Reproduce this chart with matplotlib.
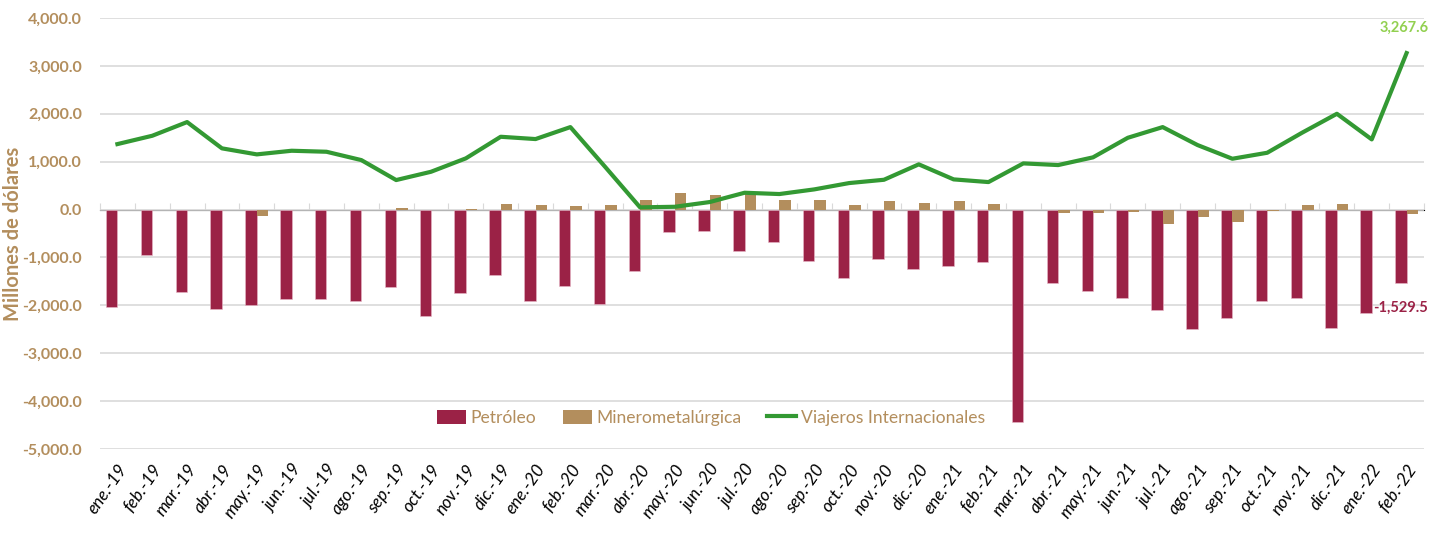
import matplotlib
matplotlib.use("Agg")
import matplotlib.pyplot as plt
from matplotlib.ticker import FuncFormatter, FixedLocator
from matplotlib.patches import Patch
from matplotlib.lines import Line2D
import numpy as np

months = ["ene.-19", "feb.-19", "mar.-19", "abr.-19", "may.-19", "jun.-19", "jul.-19", "ago.-19",
          "sep.-19", "oct.-19", "nov.-19", "dic.-19", "ene.-20", "feb.-20", "mar.-20", "abr.-20",
          "may.-20", "jun.-20", "jul.-20", "ago.-20", "sep.-20", "oct.-20", "nov.-20", "dic.-20",
          "ene.-21", "feb.-21", "mar.-21", "abr.-21", "may.-21", "jun.-21", "jul.-21", "ago.-21",
          "sep.-21", "oct.-21", "nov.-21", "dic.-21", "ene.-22", "feb.-22"]

petroleo = [-2040, -950, -1715, -2085, -2000, -1870, -1870, -1910, -1625, -2215, -1735,
            -1365, -1910, -1605, -1980, -1275, -470, -450, -865, -685, -1080, -1430, -1040,
            -1235, -1185, -1095, -4435, -1535, -1710, -1840, -2105, -2495, -2260, -1910,
            -1840, -2475, -2165, -1529.5]

minero = [-12, -12, -12, 0, -135, 0, -12, 0, 25, 0, 20,
          115, 94, 67, 94, 205, 338, 296, 345, 205, 205, 94, 184,
          142, 184, 115, -15, -80, -65, -50, -295, -150, -267, -40,
          94, 115, -10, -95]

viajeros = [1367, 1541, 1827, 1278, 1152, 1228, 1207, 1033, 616, 789, 1069,
            1520, 1472, 1722, 890, 46, 58, 157, 351, 324, 421, 553, 622,
            944, 630, 574, 964, 929, 1090, 1499, 1722, 1347, 1061, 1186,
            1604, 2000, 1465, 3267.6]

series_names = ["Petróleo", "Minerometalúrgica", "Viajeros Internacionales"]
yticks = [-5000, -4000, -3000, -2000, -1000, 0, 1000, 2000, 3000, 4000]

C_PET = "#9B2246"
C_MIN = "#B38E5D"
C_VIA = "#339933"
C_TXT = "#B38E5D"

plt.rcParams["font.family"] = ["Lato", "DejaVu Sans"]

fig = plt.figure(figsize=(14.42, 5.33), dpi=100)
ax = fig.add_axes([100/1442, 84/533, 1324/1442, 431/533])

x = np.arange(len(months))
w = 0.33
ax.bar(x - w/2, petroleo, width=w, color=C_PET, edgecolor="#E8B8C8", linewidth=0.4, zorder=3)
ax.bar(x + w/2, minero, width=w, color=C_MIN, zorder=3)
ax.plot(x, viajeros, color=C_VIA, linewidth=3, zorder=4, solid_joinstyle="round")

ax.set_xlim(-0.5, len(months) - 0.5)
ax.set_ylim(-5000, 4000)
ax.set_yticks(yticks)
ax.yaxis.set_major_formatter(FuncFormatter(lambda v, p: f"{v:,.1f}"))
ax.grid(axis="y", color="#D9D9D9", linewidth=1.2, zorder=0)
ax.set_axisbelow(True)
for s in ax.spines.values():
    s.set_visible(False)

ax.tick_params(axis="y", length=0, pad=13, labelsize=11.5, labelcolor=C_TXT)
for lab in ax.get_yticklabels():
    lab.set_fontweight("bold")
ax.set_xticks(x)
ax.set_xticklabels(months, rotation=55, ha="right", rotation_mode="anchor",
                   fontstyle="italic", fontsize=12.5)
ax.tick_params(axis="x", length=0, pad=9)

# category axis at zero with tick marks at boundaries
loc0 = (0 - (-5000)) / 9000
sec = ax.secondary_xaxis(loc0)
sec.xaxis.set_major_locator(FixedLocator(np.arange(-0.5, len(months), 1.0)))
sec.tick_params(axis="x", direction="out", length=5, color="#D9D9D9", labelbottom=False, labeltop=False)
sec.set_xticklabels([])
sec.spines["bottom"].set_color("#D9D9D9")
sec.spines["bottom"].set_linewidth(1.2)

ax.set_ylabel("Millones de dólares", color=C_TXT, fontsize=14.5, fontweight="bold")
ax.yaxis.set_label_coords(-77/1324, 0.5)

ax.annotate(f"{viajeros[-1]:,.1f}", (x[-1], viajeros[-1]), xytext=(-2, 18), textcoords="offset points",
            ha="center", va="center", color="#92D050", fontsize=10.5, fontweight="bold")
ax.annotate(f"{petroleo[-1]:,.1f}", (x[-1] - w/2, petroleo[-1]), xytext=(0, -18), textcoords="offset points",
            ha="center", va="center", color=C_PET, fontsize=10.5, fontweight="bold")

handles = [Patch(facecolor=C_PET), Patch(facecolor=C_MIN), Line2D([0], [0], color=C_VIA, linewidth=3)]
leg = ax.legend(handles, series_names, loc="center", bbox_to_anchor=(0.4615, 0.072), ncol=3,
                frameon=False, fontsize=12.6, handlelength=1.66, handleheight=0.86, columnspacing=1.5,
                handletextpad=0.25)
for t in leg.get_texts():
    t.set_color(C_TXT)

fig.savefig("out.png", dpi=100, facecolor="white")
